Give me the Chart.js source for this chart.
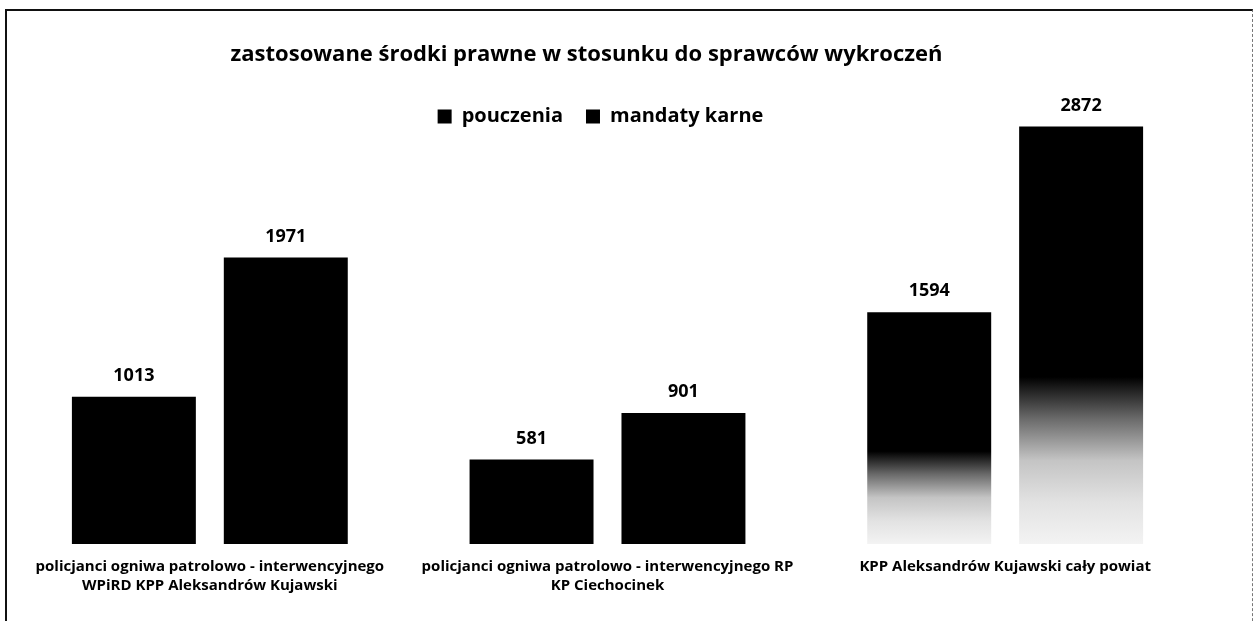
<!DOCTYPE html>
<html>
<head>
    <meta charset="utf-8">
    <title>zastosowane środki prawne</title>
    <script src="https://cdn.jsdelivr.net/npm/chart.js@4.4.0/dist/chart.umd.min.js"></script>
    <style>
        body {
            margin: 0;
            background-color: white;
            overflow: hidden;
        }
        .ramka {
            position: absolute;
            left: 5px;
            top: 9px;
            width: 1245px;
            height: 700px;
            border-top: 2px solid #111;
            border-left: 2px solid #111;
            border-right: 1px dashed #777;
        }
        .wykres {
            position: absolute;
            left: 0;
            top: 0;
            width: 1254px;
            height: 621px;
        }
    </style>
</head>
<body>
    <div class="ramka"></div>
    <div class="wykres">
        <canvas id="chart" width="1254" height="621"></canvas>
    </div>

    <script>
        // dane
        const kategorie = [
            ['policjanci ogniwa patrolowo - interwencyjnego', 'WPiRD KPP Aleksandrów Kujawski'],
            ['policjanci ogniwa patrolowo - interwencyjnego RP', 'KP Ciechocinek'],
            'KPP Aleksandrów Kujawski cały powiat'
        ];
        const pouczenia = [1013, 581, 1594];
        const mandatyKarne = [1971, 901, 2872];
        const tytul = 'zastosowane środki prawne w stosunku do sprawców wykroczeń';

        const FONT = "'Open Sans', 'DejaVu Sans', sans-serif";

        // ostatnia grupa w skanie blednie ku dołowi
        function kolorSlupka(ctx) {
            if (ctx.dataIndex !== 2) return '#000';
            const chart = ctx.chart;
            if (!chart.chartArea) return '#000';
            const y = chart.scales.y;
            const gora = y.getPixelForValue(ctx.raw);
            const dol = y.getPixelForValue(0);
            const g = chart.ctx.createLinearGradient(0, gora, 0, dol);
            g.addColorStop(0, '#000');
            g.addColorStop(0.6, '#000');
            g.addColorStop(0.7, '#6a6a6a');
            g.addColorStop(0.8, '#c4c4c4');
            g.addColorStop(0.9, '#e2e2e2');
            g.addColorStop(1, '#f3f3f3');
            return g;
        }

        // etykiety wartości nad słupkami
        const etykiety = {
            id: 'etykiety',
            afterDatasetsDraw(chart) {
                const c = chart.ctx;
                c.save();
                c.font = "bold 18px " + FONT;
                c.fillStyle = '#000';
                c.textAlign = 'center';
                c.textBaseline = 'middle';
                chart.data.datasets.forEach((ds, i) => {
                    chart.getDatasetMeta(i).data.forEach((bar, j) => {
                        c.fillText(ds.data[j], bar.x, bar.y - 21);
                    });
                });
                c.restore();
            }
        };

        // tytuł i legenda w oryginale są nieco w lewo od środka,
        // legenda zachodzi na obszar wykresu
        const przesun = {
            id: 'przesun',
            afterLayout(chart) {
                chart.titleBlock.left -= 21;
                chart.titleBlock.right -= 21;
                chart.legend.left -= 7;
                chart.legend.right -= 7;
                chart.legend.top += 11;
                chart.legend.bottom += 11;
            }
        };

        new Chart(document.getElementById('chart'), {
            type: 'bar',
            data: {
                labels: kategorie,
                datasets: [{
                    label: 'pouczenia',
                    data: pouczenia,
                    backgroundColor: kolorSlupka,
                    categoryPercentage: 0.764,
                    barPercentage: 0.816,
                    clip: false
                }, {
                    label: 'mandaty karne',
                    data: mandatyKarne,
                    backgroundColor: kolorSlupka,
                    categoryPercentage: 0.764,
                    barPercentage: 0.816,
                    clip: false
                }]
            },
            options: {
                responsive: false,
                animation: false,
                layout: {
                    padding: { left: 11, right: 50, top: 0, bottom: 13 }
                },
                plugins: {
                    title: {
                        display: true,
                        text: tytul,
                        color: '#000',
                        font: { family: FONT, size: 22, weight: 'bold', lineHeight: 1.2 },
                        padding: { top: 42, bottom: 4 }
                    },
                    legend: {
                        position: 'top',
                        labels: {
                            color: '#000',
                            boxWidth: 14,
                            boxHeight: 14,
                            padding: 23,
                            font: { family: FONT, size: 20, weight: 'bold', lineHeight: 1.1 },
                            generateLabels(chart) {
                                return chart.data.datasets.map((ds, i) => ({
                                    text: ds.label,
                                    fillStyle: '#000',
                                    strokeStyle: '#000',
                                    lineWidth: 0,
                                    fontColor: '#000',
                                    datasetIndex: i
                                }));
                            }
                        }
                    },
                    tooltip: { enabled: false }
                },
                scales: {
                    x: {
                        grid: { display: false, drawTicks: false },
                        border: { display: false },
                        ticks: {
                            color: '#000',
                            padding: 13,
                            maxRotation: 0,
                            autoSkip: false,
                            font: { family: FONT, size: 15, weight: 'bold', lineHeight: 1.27 }
                        }
                    },
                    y: {
                        display: false,
                        min: 0,
                        max: 2880
                    }
                }
            },
            plugins: [etykiety, przesun]
        });
    </script>
</body>
</html>
